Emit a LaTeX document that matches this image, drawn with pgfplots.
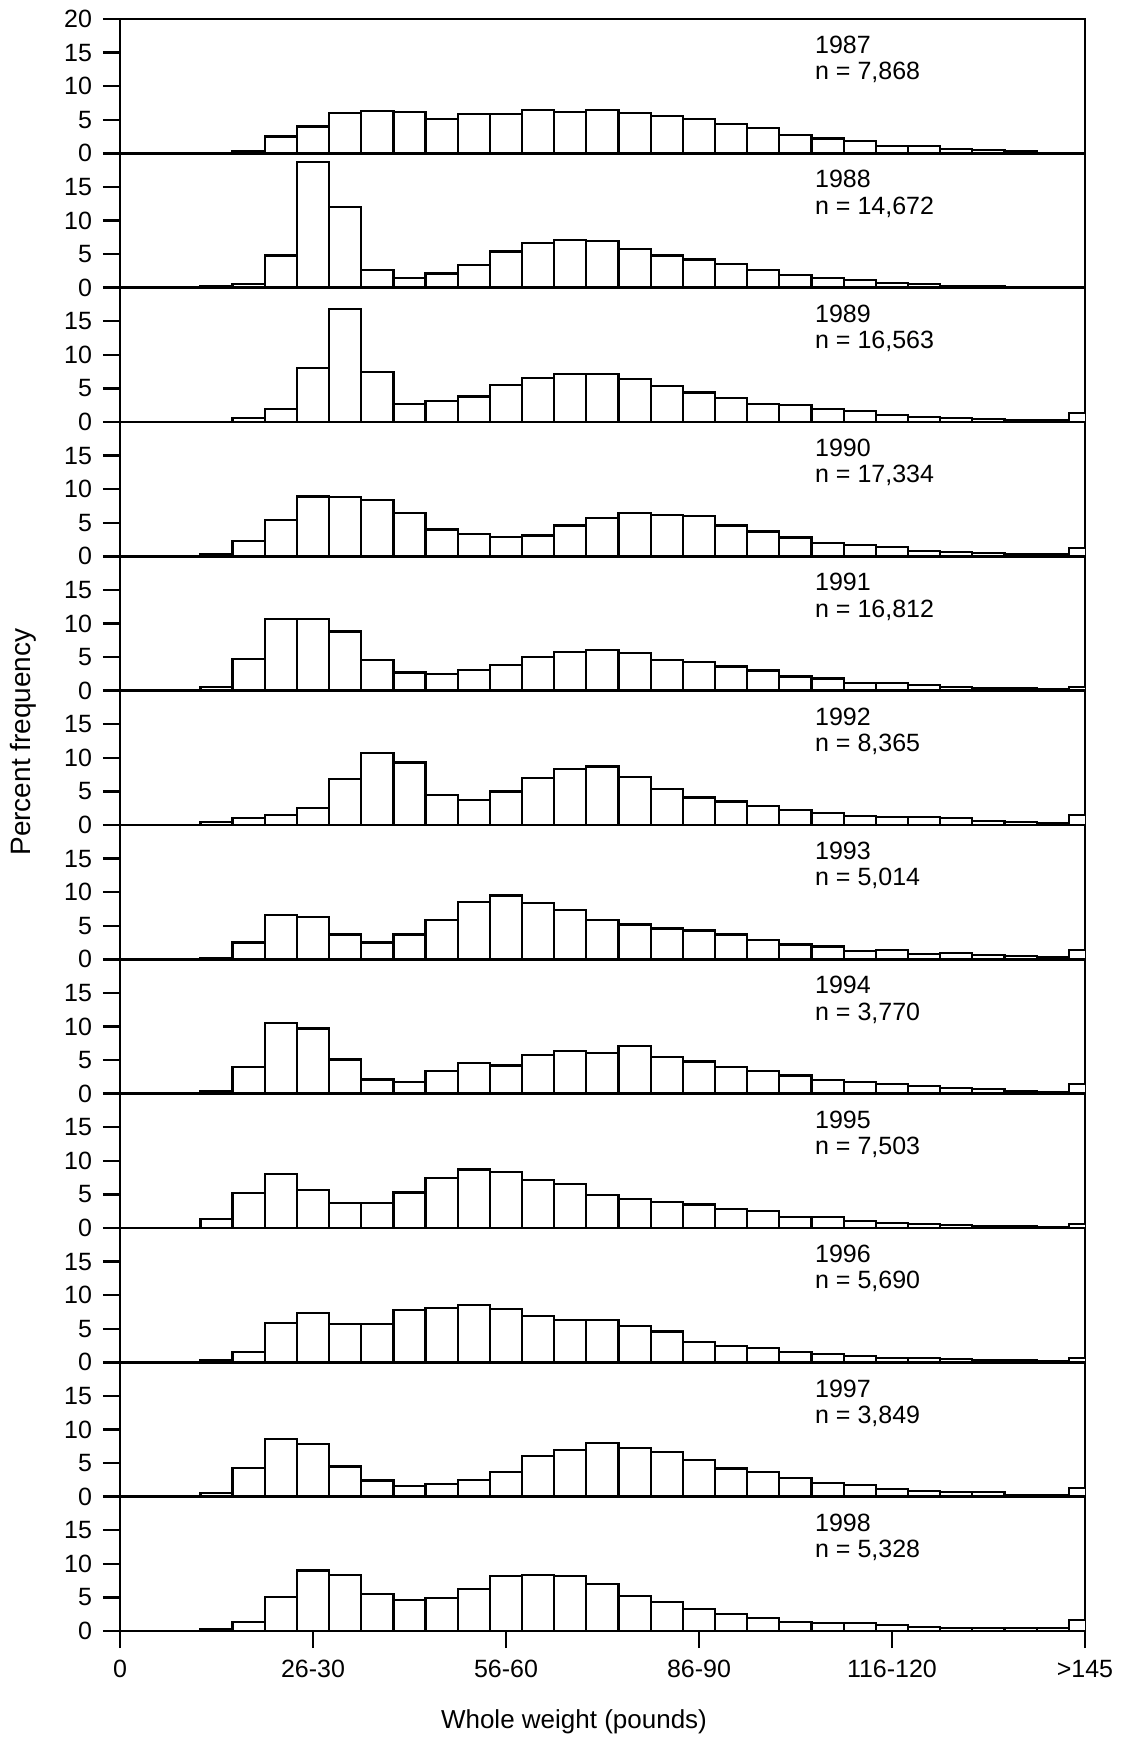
\documentclass[border=0pt]{standalone}
\usepackage{fontspec}
\setmainfont{Liberation Sans}
\usepackage{pgfplots}
\pgfplotsset{compat=1.18}
\usepackage{pgfplotstable}
\usepgfplotslibrary{groupplots}

\pgfplotstableread{
bin a87 a88 a89 a90 a91 a92 a93 a94 a95 a96 a97 a98
3 0 0.2 0 0.4 0.6 0.4 0.25 0.4 1.3 0.3 0.5 0.3
4 0.35 0.5 0.6 2.3 4.7 1.1 2.5 4.0 5.2 1.5 4.3 1.4
5 2.5 4.8 1.9 5.4 10.7 1.5 6.6 10.5 8.0 5.8 8.6 5.1
6 4.0 18.7 8.0 8.9 10.7 2.5 6.3 9.7 5.7 7.4 7.9 9.0
7 6.0 12.0 16.8 8.8 8.8 6.9 3.7 5.1 3.7 5.7 4.5 8.3
8 6.3 2.6 7.4 8.4 4.6 10.7 2.5 2.1 3.7 5.7 2.4 5.5
9 6.2 1.5 2.7 6.5 2.7 9.3 3.7 1.7 5.3 7.8 1.6 4.6
10 5.1 2.1 3.1 4.0 2.5 4.5 5.9 3.4 7.5 8.1 1.9 4.9
11 5.8 3.4 3.8 3.3 3.1 3.7 8.5 4.6 8.7 8.5 2.5 6.2
12 5.8 5.4 5.5 2.9 3.8 5.0 9.5 4.2 8.4 7.9 3.7 8.2
13 6.4 6.7 6.5 3.1 5.0 7.0 8.4 5.8 7.1 6.9 6.0 8.4
14 6.2 7.1 7.2 4.6 5.7 8.3 7.4 6.4 6.5 6.3 7.0 8.2
15 6.4 6.9 7.2 5.7 6.1 8.7 5.9 6.1 4.9 6.3 8.0 7.0
16 6.0 5.8 6.4 6.4 5.6 7.1 5.2 7.1 4.3 5.4 7.3 5.2
17 5.6 4.8 5.4 6.2 4.6 5.4 4.6 5.5 3.9 4.6 6.6 4.3
18 5.1 4.2 4.4 6.0 4.3 4.1 4.3 4.8 3.5 3.0 5.5 3.3
19 4.4 3.5 3.6 4.6 3.6 3.5 3.7 4.0 2.8 2.4 4.2 2.5
20 3.8 2.6 2.7 3.7 3.0 2.8 2.9 3.4 2.5 2.1 3.7 1.9
21 2.7 1.9 2.5 2.8 2.1 2.2 2.2 2.7 1.6 1.6 2.8 1.4
22 2.2 1.4 1.9 2.0 1.8 1.8 1.9 2.0 1.6 1.3 2.0 1.2
23 1.8 1.1 1.6 1.7 1.2 1.4 1.3 1.7 1.0 1.0 1.7 1.2
24 1.1 0.7 1.1 1.4 1.1 1.2 1.4 1.4 0.8 0.7 1.1 0.9
25 1.1 0.5 0.8 0.8 0.9 1.2 0.8 1.1 0.55 0.6 0.9 0.6
26 0.7 0.3 0.6 0.7 0.6 1.1 0.9 0.9 0.4 0.5 0.7 0.5
27 0.45 0.2 0.5 0.5 0.4 0.6 0.6 0.65 0.35 0.4 0.75 0.45
28 0.35 0.1 0.35 0.4 0.4 0.5 0.45 0.35 0.25 0.3 0.3 0.4
29 0 0 0.3 0.3 0.25 0.3 0.35 0.3 0.2 0.25 0.3 0.5
30 0 0 1.3 1.2 0.6 1.5 1.4 1.4 0.6 0.7 1.3 1.7
}\data

\newcommand{\panel}[3]{%
  \nextgroupplot[#3]
  \addplot[ybar, bar width=1, bar shift=0pt, fill=white, draw=black, line width=1.1pt] table[x=bin,y=#1]{\data};
  \node[anchor=north west, inner sep=0pt, align=left, font=\fontsize{12.5}{13.1}\selectfont] at (axis cs:21.6,17.5) {#2};
}

\begin{document}
\begin{tikzpicture}
\begin{groupplot}[
  group style={group name=G, group size=1 by 12, vertical sep=0pt},
  scale only axis, width=482.5pt, height=67.17pt,
  xmin=0, xmax=30, ymin=0, ymax=20,
  xtick=\empty,
  ytick={0,5,10,15},
  ytick pos=left, xtick pos=bottom,
  tick align=outside,
  major tick length=8.5pt,
  axis line style={line width=1.3pt},
  every tick/.style={line width=1.2pt, black},
  tick label style={font=\fontsize{12.5}{14}\selectfont},
  yticklabel style={xshift=-2pt},
  xticklabel style={yshift=-2.5pt},
  /pgf/number format/assume math mode=true,
]
\panel{a87}{1987\\n = 7,868}{ytick={0,5,10,15,20}}
\panel{a88}{1988\\n = 14,672}{}
\panel{a89}{1989\\n = 16,563}{}
\panel{a90}{1990\\n = 17,334}{}
\panel{a91}{1991\\n = 16,812}{}
\panel{a92}{1992\\n = 8,365}{}
\panel{a93}{1993\\n = 5,014}{}
\panel{a94}{1994\\n = 3,770}{}
\panel{a95}{1995\\n = 7,503}{}
\panel{a96}{1996\\n = 5,690}{}
\panel{a97}{1997\\n = 3,849}{}
\panel{a98}{1998\\n = 5,328}{xtick={0,6,12,18,24,30}, xticklabels={0,26-30,56-60,86-90,116-120,>145}}
\end{groupplot}
\node[rotate=90, font=\fontsize{14}{16}\selectfont] at ([xshift=-48.5pt, yshift=41.5pt]G c1r6.south west) {Percent frequency};
\node[font=\fontsize{13}{15}\selectfont] at ([xshift=227pt, yshift=-45.5pt]G c1r12.south west) {Whole weight (pounds)};
\pgfresetboundingbox
\path ([xshift=-60pt,yshift=9.5pt]G c1r1.north west) rectangle ([xshift=23pt,yshift=-53pt]G c1r12.south east);
\end{tikzpicture}
\end{document}
